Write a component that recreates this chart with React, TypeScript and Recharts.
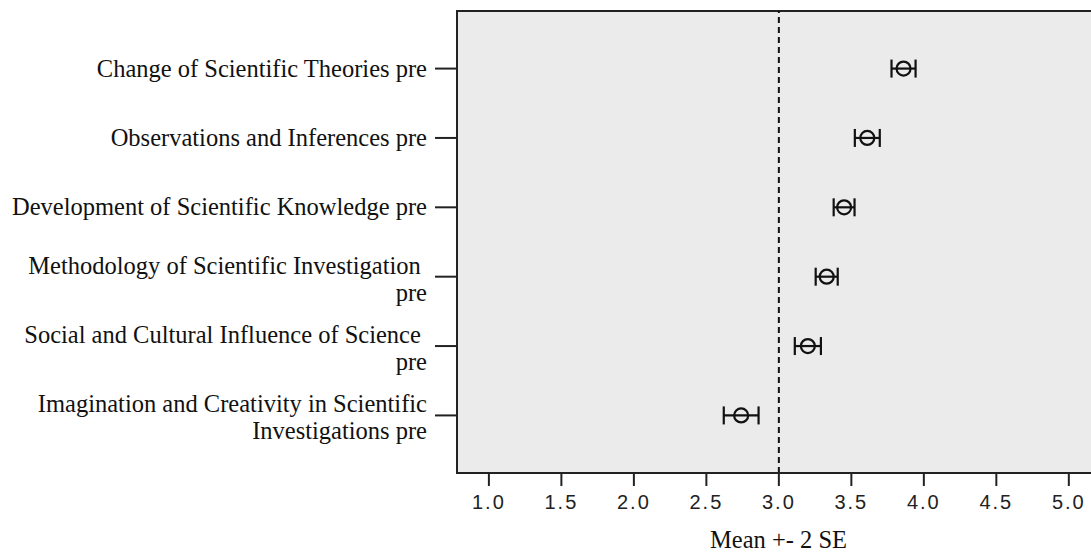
import React from 'react';
import {
  ComposedChart,
  Scatter,
  XAxis,
  YAxis,
  ErrorBar,
  ReferenceLine,
  ReferenceArea,
} from 'recharts';

// scales of the pre-test, one row each (top to bottom)
const categories = [
  ['Change of Scientific Theories pre'],
  ['Observations and Inferences pre'],
  ['Development of Scientific Knowledge pre'],
  ['Methodology of Scientific Investigation ', 'pre'],
  ['Social and Cultural Influence of Science ', 'pre'],
  ['Imagination and Creativity in Scientific', 'Investigations pre'],
];
const means = [3.86, 3.61, 3.45, 3.33, 3.2, 2.74];
const twoSE = [0.083, 0.086, 0.072, 0.076, 0.09, 0.12];
const xTicks = [1.0, 1.5, 2.0, 2.5, 3.0, 3.5, 4.0, 4.5, 5.0];

const data = means.map((m, i) => ({ row: i, mean: m, err: twoSE[i] }));

const SERIF = '"Liberation Serif", "Times New Roman", serif';
const SANS = '"Liberation Sans", Arial, sans-serif';

const YTick = (props: any) => {
  const { x, y, payload } = props;
  const lines = categories[payload.value] || [];
  const common = {
    x,
    textAnchor: 'end' as const,
    fontFamily: SERIF,
    fontSize: 24.5,
    fill: '#111',
    style: { whiteSpace: 'pre' as const },
  };
  if (lines.length === 1) {
    return <text {...common} y={y + 8}>{lines[0]}</text>;
  }
  return (
    <g>
      <text {...common} y={y - 3}>{lines[0]}</text>
      <text {...common} y={y + 24}>{lines[1]}</text>
    </g>
  );
};

const Marker = (props: any) => {
  const { cx, cy } = props;
  return <circle cx={cx} cy={cy} r={7} fill="none" stroke="#111" strokeWidth={2.2} />;
};

export default function App() {
  return (
    <div style={{ position: 'absolute', left: 0, top: 0, width: 1091, height: 554, overflow: 'hidden', background: '#fff' }}>
      <ComposedChart
        width={1100}
        height={554}
        data={data}
        margin={{ top: 11, right: 0, bottom: 0, left: 0 }}
      >
        <ReferenceArea
          x1={0.78}
          x2={5.215}
          y1={-0.83}
          y2={5.83}
          fill="#ebebeb"
          fillOpacity={1}
          stroke="#222"
          strokeWidth={2}
          ifOverflow="visible"
        />
        <XAxis
          type="number"
          dataKey="mean"
          domain={[0.78, 5.215]}
          ticks={xTicks}
          allowDataOverflow
          tickFormatter={(v: number) => v.toFixed(1)}
          tickSize={13}
          tickMargin={9}
          height={81}
          stroke="#222"
          strokeWidth={2}
          tick={{ fill: '#222', fontSize: 20, fontFamily: SANS, letterSpacing: 2 }}
          label={{ value: 'Mean +- 2 SE', position: 'insideBottom', offset: 6, fill: '#111', fontSize: 24.5, fontFamily: SERIF }}
        />
        <YAxis
          type="number"
          dataKey="row"
          domain={[-0.83, 5.83]}
          reversed
          ticks={[0, 1, 2, 3, 4, 5]}
          width={457}
          tickSize={22}
          tickMargin={8}
          stroke="#222"
          strokeWidth={2}
          tick={<YTick />}
        />
        <ReferenceLine x={3} stroke="#111" strokeWidth={2} strokeDasharray="6 4" />
        <Scatter data={data} shape={<Marker />} isAnimationActive={false}>
          <ErrorBar dataKey="err" direction="x" width={9} stroke="#111" strokeWidth={2.2} />
        </Scatter>
      </ComposedChart>
    </div>
  );
}
